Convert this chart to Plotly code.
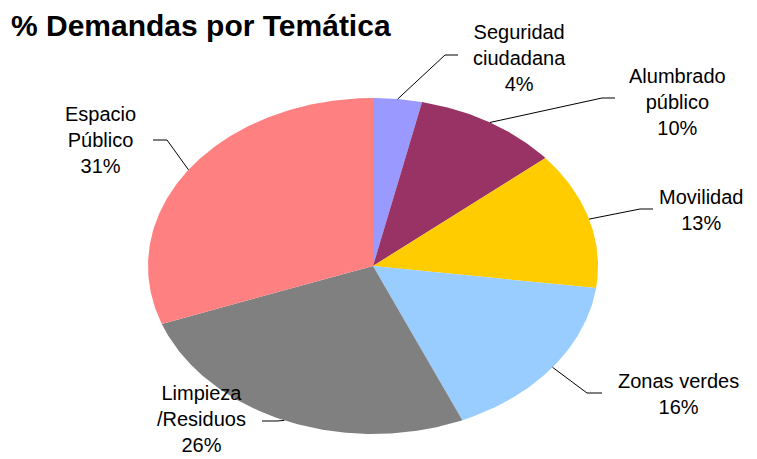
import numpy as np
import plotly.graph_objects as go

# ---- data ----
categories = ["Seguridad<br>ciudadana", "Alumbrado<br>público", "Movilidad",
              "Zonas verdes", "Limpieza<br>/Residuos", "Espacio<br>Público"]
values = [3.5, 10.4, 13.2, 16.4, 25.9, 30.6]
colors = ["#9999FF", "#993366", "#FFCC00", "#99CCFF", "#808080", "#FF8080"]
title_text = "% Demandas por Temática"

# ---- layout geometry (pixels, page coords; page body has an 8px margin) ----
OFF = 8
W, H = 757 - OFF, 459 - OFF
CX, CY, RX, RY = 373 - OFF, 266 - OFF, 225, 168   # pie centre and radii


def px_to_x(px):
    return (px - OFF - CX) / RX


def px_to_y(py):
    return (CY - (py - OFF)) / RY


def paper_x(px):
    return (px - OFF) / W


def paper_y(py):
    return 1 - (py - OFF) / H


# label placement (page pixels): text centre, leader elbow, leader end
label_pos = [
    (519, 58, (445, 55), (458, 55)),
    (677, 102, (602, 98), (615, 98)),
    (701, 209.5, (640, 209), (653, 209)),
    (678, 393.5, (587, 393), (602, 393)),
    (201, 419, (277, 421), (262, 421)),
    (100, 140, (167, 140), (153, 140)),
]

fig = go.Figure()

total = float(sum(values))
cum = 0.0
mids = []
for cat, v, col in zip(categories, values, colors):
    a0 = cum / total * 2 * np.pi
    a1 = (cum + v) / total * 2 * np.pi
    cum += v
    t = np.linspace(a0, a1, max(int(v * 6), 8))
    xs = np.concatenate([[0.0], np.sin(t), [0.0]])
    ys = np.concatenate([[0.0], np.cos(t), [0.0]])
    fig.add_trace(go.Scatter(x=xs, y=ys, mode="lines", fill="toself",
                             fillcolor=col, line=dict(width=0, color=col),
                             hoverinfo="skip", showlegend=False))
    mids.append((a0 + a1) / 2)

annotations = []
for cat, v, m, (tx, ty, elb, end) in zip(categories, values, mids, label_pos):
    sx, sy = np.sin(m), np.cos(m)
    fig.add_trace(go.Scatter(x=[sx, px_to_x(elb[0]), px_to_x(end[0])],
                             y=[sy, px_to_y(elb[1]), px_to_y(end[1])],
                             mode="lines", line=dict(color="black", width=1),
                             hoverinfo="skip", showlegend=False))
    annotations.append(dict(x=paper_x(tx), y=paper_y(ty), xref="paper", yref="paper",
                            text=f"{cat}<br>{v:.0f}%", showarrow=False,
                            xanchor="center", yanchor="middle", align="center",
                            borderpad=0,
                            font=dict(family="Arial, Liberation Sans", size=20,
                                      color="black")))

annotations.append(dict(x=paper_x(9), y=paper_y(25), xref="paper", yref="paper",
                        text=f"<b>{title_text}</b>", showarrow=False,
                        xanchor="left", yanchor="middle",
                        font=dict(family="Arial, Liberation Sans", size=30,
                                  color="black")))

fig.update_layout(
    width=W, height=H,
    margin=dict(l=0, r=0, t=0, b=0),
    paper_bgcolor="white", plot_bgcolor="white",
    xaxis=dict(range=[px_to_x(OFF), px_to_x(OFF + W)], visible=False, fixedrange=True),
    yaxis=dict(range=[px_to_y(OFF + H), px_to_y(OFF)], visible=False, fixedrange=True),
    annotations=annotations,
    showlegend=False,
)

fig.write_html("out.html")
